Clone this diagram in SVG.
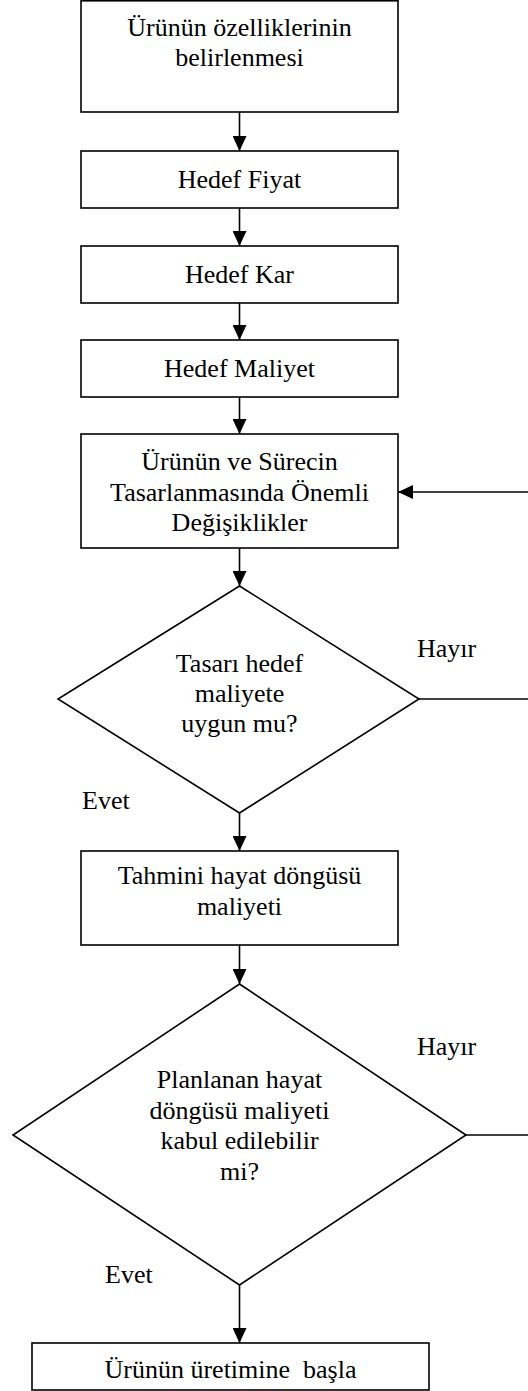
<svg xmlns="http://www.w3.org/2000/svg" width="528" height="1391" viewBox="0 0 528 1391">
<style>
.box{fill:#fff;stroke:#000;stroke-width:1.6}
text{font-family:'Liberation Serif','Times New Roman',Times,'DejaVu Serif',serif;font-size:26px;fill:#000}
.t{text-anchor:middle}
.c{fill:none;stroke:#000;stroke-width:1.6}
</style>
<defs>
<marker id="ah" viewBox="0 0 15 14" markerWidth="15" markerHeight="14" refX="15" refY="7" orient="auto" markerUnits="userSpaceOnUse">
<path d="M0,0 L15,7 L0,14 z" fill="#000"/>
</marker>
</defs>
<rect width="528" height="1391" fill="#fff"/>
<g id="connectors">
<line class="c" x1="239.5" y1="112" x2="239.5" y2="151" marker-end="url(#ah)"/>
<line class="c" x1="239.5" y1="208" x2="239.5" y2="246" marker-end="url(#ah)"/>
<line class="c" x1="239.5" y1="303" x2="239.5" y2="340" marker-end="url(#ah)"/>
<line class="c" x1="239.5" y1="397" x2="239.5" y2="434" marker-end="url(#ah)"/>
<line class="c" x1="239.5" y1="548" x2="239.5" y2="586" marker-end="url(#ah)"/>
<line class="c" x1="528" y1="492" x2="398" y2="492" marker-end="url(#ah)"/>
<line class="c" x1="419" y1="699" x2="528" y2="699"/>
<line class="c" x1="239.5" y1="813" x2="239.5" y2="851" marker-end="url(#ah)"/>
<line class="c" x1="239.5" y1="945" x2="239.5" y2="984" marker-end="url(#ah)"/>
<line class="c" x1="466" y1="1135" x2="528" y2="1135"/>
<line class="c" x1="239.5" y1="1285" x2="239.5" y2="1343" marker-end="url(#ah)"/>
<text x="417" y="657" font-family="Liberation Serif, serif">Hayır</text>
<text x="82" y="809" font-family="Liberation Serif, serif">Evet</text>
<text x="417" y="1055" font-family="Liberation Serif, serif">Hayır</text>
<text x="105" y="1283" font-family="Liberation Serif, serif">Evet</text>
</g>
<g id="n1">
<rect class="box" x="81" y="0.8" width="317" height="111.2"/>
<text class="t" x="239.5" y="35.5">Ürünün özelliklerinin</text>
<text class="t" x="239.5" y="65.5">belirlenmesi</text>
</g>
<g id="n2">
<rect class="box" x="81" y="151" width="317" height="57"/>
<text class="t" x="239.5" y="188">Hedef Fiyat</text>
</g>
<g id="n3">
<rect class="box" x="81" y="246" width="317" height="57"/>
<text class="t" x="239.5" y="283">Hedef Kar</text>
</g>
<g id="n4">
<rect class="box" x="81" y="340" width="317" height="57"/>
<text class="t" x="239.5" y="377">Hedef Maliyet</text>
</g>
<g id="n5">
<rect class="box" x="81" y="434" width="317" height="114"/>
<text class="t" x="239.5" y="470">Ürünün ve Sürecin</text>
<text class="t" x="239.5" y="500.5">Tasarlanmasında Önemli</text>
<text class="t" x="239.5" y="531">Değişiklikler</text>
</g>
<g id="d1">
<polygon class="box" points="239.5,586 419,699 239.5,813 58,699"/>
<text class="t" x="239.5" y="672">Tasarı hedef</text>
<text class="t" x="239.5" y="702">maliyete</text>
<text class="t" x="239.5" y="732">uygun mu?</text>
</g>
<g id="n6">
<rect class="box" x="81" y="851" width="317" height="94"/>
<text class="t" x="239.5" y="884">Tahmini hayat döngüsü</text>
<text class="t" x="239.5" y="914.5">maliyeti</text>
</g>
<g id="d2">
<polygon class="box" points="239.5,984 466,1135 239.5,1285 13,1135"/>
<text class="t" x="239.5" y="1088">Planlanan hayat</text>
<text class="t" x="239.5" y="1118.5">döngüsü maliyeti</text>
<text class="t" x="239.5" y="1149">kabul edilebilir</text>
<text class="t" x="239.5" y="1179.5">mi?</text>
</g>
<g id="n7">
<rect class="box" x="32" y="1343" width="397" height="47"/>
<text class="t" x="230.5" y="1378" xml:space="preserve">Ürünün üretimine  başla</text>
</g>
</svg>
